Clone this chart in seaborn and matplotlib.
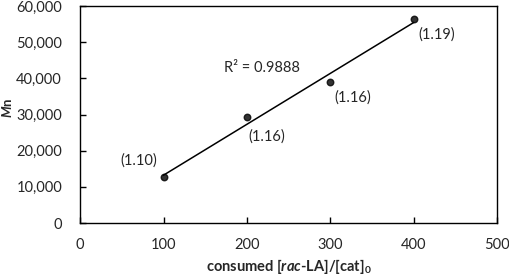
import numpy as np
import pandas as pd
import matplotlib
matplotlib.use('Agg')
import matplotlib.pyplot as plt
import seaborn as sns
from matplotlib.ticker import FuncFormatter

# data
ratio = [100, 200, 300, 400]
mn = [12700, 29300, 39000, 56400]
dispersity = ['(1.10)', '(1.16)', '(1.16)', '(1.19)']

df = pd.DataFrame({'ratio': ratio, 'mn': mn})

sns.set_style('white')
plt.rcParams['font.family'] = ['Lato', 'DejaVu Sans']
plt.rcParams['mathtext.fontset'] = 'custom'
plt.rcParams['mathtext.rm'] = 'Lato'
plt.rcParams['mathtext.it'] = 'Lato:italic'
plt.rcParams['mathtext.bf'] = 'Lato:bold'
plt.rcParams['mathtext.bfit'] = 'Lato:bold:italic'

fig = plt.figure(figsize=(5.1, 2.75), dpi=100)
ax = fig.add_axes([0.157, 0.189, 0.818, 0.789])

sns.regplot(data=df, x='ratio', y='mn', ci=None, ax=ax,
            scatter_kws={'s': 22, 'color': 'black', 'zorder': 3},
            line_kws={'color': 'black', 'lw': 1.1})

ax.text(172, 42800, 'R² = 0.9888', fontsize=10.5, va='center')

# dispersity labels (offsets in points)
offsets = [(-31, 12), (1, -14), (3, -11), (3, -11)]
for x, y, lab, off in zip(ratio, mn, dispersity, offsets):
    ax.annotate(lab, (x, y), xytext=off, textcoords='offset points',
                fontsize=10.5, ha='left', va='center')

ax.set_xlim(0, 500)
ax.set_ylim(0, 60000)
ax.set_xticks([0, 100, 200, 300, 400, 500])
ax.set_yticks(range(0, 60001, 10000))
ax.yaxis.set_major_formatter(FuncFormatter(lambda v, p: f'{int(v):,}'))
ax.tick_params(direction='in', length=4, width=1, labelsize=10.5, color='black',
               top=False, right=False, bottom=True, left=True)
ax.tick_params(axis='y', pad=13)
ax.tick_params(axis='x', pad=11)
for s in ax.spines.values():
    s.set_color('black')
    s.set_linewidth(1)

ax.set_xlabel(r'consumed [$\mathbfit{rac}$-LA]/[cat]$_\mathbf{0}$',
              fontsize=10.5, fontweight='bold')
ax.set_ylabel(r'$\mathbfit{M}$n', fontsize=9.5, fontweight='bold')
ax.xaxis.set_label_coords(0.5, -0.155)
ax.yaxis.set_label_coords(-0.158, 0.53)

fig.savefig('out.png', dpi=100)
